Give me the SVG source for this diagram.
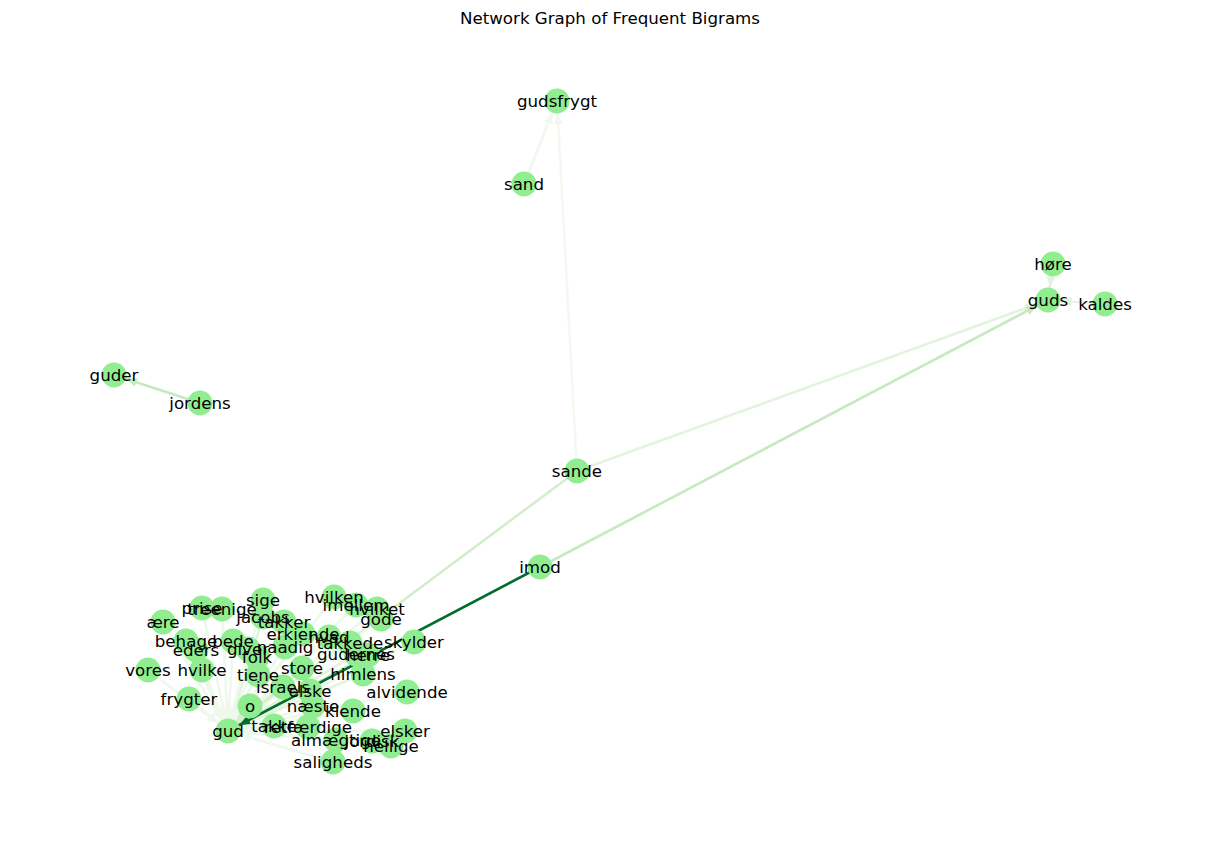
<svg xmlns="http://www.w3.org/2000/svg" width="1220" height="842" viewBox="0 0 1220 842">
<style>
.n circle{fill:#90ee90}
.n text{font-family:"DejaVu Sans",sans-serif;font-size:16.67px;fill:#000;text-anchor:middle;dominant-baseline:central}
.e line{stroke-width:2.6;fill:none}
.t{font-family:"DejaVu Sans",sans-serif;font-size:16.67px;text-anchor:middle}
</style>
<defs>
<marker id="a1" markerUnits="userSpaceOnUse" viewBox="0 0 11 9" markerWidth="11" markerHeight="9" refX="23.5" refY="4.5" orient="auto"><path d="M0,0L11,4.5L0,9z" fill="#eff8ec"/></marker>
<marker id="a2" markerUnits="userSpaceOnUse" viewBox="0 0 11 9" markerWidth="11" markerHeight="9" refX="23.5" refY="4.5" orient="auto"><path d="M0,0L11,4.5L0,9z" fill="#e3f4de"/></marker>
<marker id="a3" markerUnits="userSpaceOnUse" viewBox="0 0 11 9" markerWidth="11" markerHeight="9" refX="23.5" refY="4.5" orient="auto"><path d="M0,0L11,4.5L0,9z" fill="#c7e9c0"/></marker>
<marker id="a4" markerUnits="userSpaceOnUse" viewBox="0 0 11 9" markerWidth="11" markerHeight="9" refX="23.5" refY="4.5" orient="auto"><path d="M0,0L11,4.5L0,9z" fill="#006d2c"/></marker>
<marker id="a5" markerUnits="userSpaceOnUse" viewBox="0 0 11 9" markerWidth="11" markerHeight="9" refX="23.5" refY="4.5" orient="auto"><path d="M0,0L11,4.5L0,9z" fill="#d3eecd"/></marker>
</defs>
<rect width="1220" height="842" fill="#fff"/>
<text class="t" x="610" y="24">Network Graph of Frequent Bigrams</text>
<g id="edges" class="e">
<line x1="524" y1="184" x2="557" y2="101" stroke="#eff8ec" marker-end="url(#a1)"/>
<line x1="577" y1="471" x2="557" y2="101" stroke="#f2faef" marker-end="url(#a1)"/>
<line x1="1053" y1="264" x2="1048" y2="300" stroke="#e3f4de" marker-end="url(#a2)"/>
<line x1="1105" y1="304" x2="1048" y2="300" stroke="#e8f6e4" marker-end="url(#a2)"/>
<line x1="200" y1="403" x2="114" y2="375" stroke="#c7e9c0" marker-end="url(#a3)"/>
<line x1="577" y1="471" x2="1048" y2="300" stroke="#e3f4de" marker-end="url(#a2)"/>
<line x1="540" y1="567" x2="1048" y2="300" stroke="#c7e9c0" marker-end="url(#a3)"/>
<line x1="577" y1="471" x2="228" y2="731" stroke="#d3eecd" marker-end="url(#a5)"/>
<line x1="202" y1="608" x2="228" y2="731" stroke="#eff8ec" marker-end="url(#a1)"/>
<line x1="222" y1="609" x2="228" y2="731" stroke="#eff8ec" marker-end="url(#a1)"/>
<line x1="263" y1="600" x2="228" y2="731" stroke="#eff8ec" marker-end="url(#a1)"/>
<line x1="263" y1="617" x2="228" y2="731" stroke="#e3f4de" marker-end="url(#a2)"/>
<line x1="284" y1="622" x2="228" y2="731" stroke="#eff8ec" marker-end="url(#a1)"/>
<line x1="163" y1="622" x2="228" y2="731" stroke="#eff8ec" marker-end="url(#a1)"/>
<line x1="186" y1="641" x2="228" y2="731" stroke="#eff8ec" marker-end="url(#a1)"/>
<line x1="233" y1="641" x2="228" y2="731" stroke="#eff8ec" marker-end="url(#a1)"/>
<line x1="196" y1="650" x2="228" y2="731" stroke="#eff8ec" marker-end="url(#a1)"/>
<line x1="248" y1="649" x2="228" y2="731" stroke="#eff8ec" marker-end="url(#a1)"/>
<line x1="257" y1="657" x2="228" y2="731" stroke="#eff8ec" marker-end="url(#a1)"/>
<line x1="285" y1="647" x2="228" y2="731" stroke="#eff8ec" marker-end="url(#a1)"/>
<line x1="303" y1="634" x2="228" y2="731" stroke="#eff8ec" marker-end="url(#a1)"/>
<line x1="334" y1="597" x2="228" y2="731" stroke="#eff8ec" marker-end="url(#a1)"/>
<line x1="356" y1="605" x2="228" y2="731" stroke="#eff8ec" marker-end="url(#a1)"/>
<line x1="377" y1="609" x2="228" y2="731" stroke="#eff8ec" marker-end="url(#a1)"/>
<line x1="381" y1="619" x2="228" y2="731" stroke="#eff8ec" marker-end="url(#a1)"/>
<line x1="329" y1="637" x2="228" y2="731" stroke="#eff8ec" marker-end="url(#a1)"/>
<line x1="350" y1="643" x2="228" y2="731" stroke="#eff8ec" marker-end="url(#a1)"/>
<line x1="414" y1="642" x2="228" y2="731" stroke="#eff8ec" marker-end="url(#a1)"/>
<line x1="356" y1="654" x2="228" y2="731" stroke="#e3f4de" marker-end="url(#a2)"/>
<line x1="368" y1="655" x2="228" y2="731" stroke="#d3eecd" marker-end="url(#a5)"/>
<line x1="363" y1="674" x2="228" y2="731" stroke="#e3f4de" marker-end="url(#a2)"/>
<line x1="302" y1="668" x2="228" y2="731" stroke="#e3f4de" marker-end="url(#a2)"/>
<line x1="258" y1="675" x2="228" y2="731" stroke="#eff8ec" marker-end="url(#a1)"/>
<line x1="283" y1="687" x2="228" y2="731" stroke="#d3eecd" marker-end="url(#a5)"/>
<line x1="310" y1="691" x2="228" y2="731" stroke="#e3f4de" marker-end="url(#a2)"/>
<line x1="407" y1="692" x2="228" y2="731" stroke="#eff8ec" marker-end="url(#a1)"/>
<line x1="148" y1="670" x2="228" y2="731" stroke="#eff8ec" marker-end="url(#a1)"/>
<line x1="202" y1="670" x2="228" y2="731" stroke="#eff8ec" marker-end="url(#a1)"/>
<line x1="189" y1="699" x2="228" y2="731" stroke="#eff8ec" marker-end="url(#a1)"/>
<line x1="250" y1="706" x2="228" y2="731" stroke="#d3eecd" marker-end="url(#a5)"/>
<line x1="313" y1="706" x2="228" y2="731" stroke="#eff8ec" marker-end="url(#a1)"/>
<line x1="353" y1="711" x2="228" y2="731" stroke="#eff8ec" marker-end="url(#a1)"/>
<line x1="274" y1="726" x2="228" y2="731" stroke="#eff8ec" marker-end="url(#a1)"/>
<line x1="308" y1="727" x2="228" y2="731" stroke="#e3f4de" marker-end="url(#a2)"/>
<line x1="336" y1="740" x2="228" y2="731" stroke="#e3f4de" marker-end="url(#a2)"/>
<line x1="372" y1="741" x2="228" y2="731" stroke="#eff8ec" marker-end="url(#a1)"/>
<line x1="405" y1="731" x2="228" y2="731" stroke="#eff8ec" marker-end="url(#a1)"/>
<line x1="391" y1="746" x2="228" y2="731" stroke="#eff8ec" marker-end="url(#a1)"/>
<line x1="333" y1="762" x2="228" y2="731" stroke="#eff8ec" marker-end="url(#a1)"/>
<line x1="540" y1="567" x2="228" y2="731" stroke="#006d2c" marker-end="url(#a4)"/>
</g>
<g id="n-gudsfrygt" class="n"><circle cx="557" cy="101" r="12.5"/></g>
<g id="n-sand" class="n"><circle cx="524" cy="184" r="12.5"/></g>
<g id="n-hore" class="n"><circle cx="1053" cy="264" r="12.5"/></g>
<g id="n-guds" class="n"><circle cx="1048" cy="300" r="12.5"/></g>
<g id="n-kaldes" class="n"><circle cx="1105" cy="304" r="12.5"/></g>
<g id="n-guder" class="n"><circle cx="114" cy="375" r="12.5"/></g>
<g id="n-jordens" class="n"><circle cx="200" cy="403" r="12.5"/></g>
<g id="n-sande" class="n"><circle cx="577" cy="471" r="12.5"/></g>
<g id="n-imod" class="n"><circle cx="540" cy="567" r="12.5"/></g>
<g id="n-prise" class="n"><circle cx="202" cy="608" r="12.5"/></g>
<g id="n-treenige" class="n"><circle cx="222" cy="609" r="12.5"/></g>
<g id="n-sige" class="n"><circle cx="263" cy="600" r="12.5"/></g>
<g id="n-jacobs" class="n"><circle cx="263" cy="617" r="12.5"/></g>
<g id="n-takker" class="n"><circle cx="284" cy="622" r="12.5"/></g>
<g id="n-aere" class="n"><circle cx="163" cy="622" r="12.5"/></g>
<g id="n-behage" class="n"><circle cx="186" cy="641" r="12.5"/></g>
<g id="n-bede" class="n"><circle cx="233" cy="641" r="12.5"/></g>
<g id="n-eders" class="n"><circle cx="196" cy="650" r="12.5"/></g>
<g id="n-giver" class="n"><circle cx="248" cy="649" r="12.5"/></g>
<g id="n-folk" class="n"><circle cx="257" cy="657" r="12.5"/></g>
<g id="n-naadig" class="n"><circle cx="285" cy="647" r="12.5"/></g>
<g id="n-erkiende" class="n"><circle cx="303" cy="634" r="12.5"/></g>
<g id="n-hvilken" class="n"><circle cx="334" cy="597" r="12.5"/></g>
<g id="n-imellem" class="n"><circle cx="356" cy="605" r="12.5"/></g>
<g id="n-hvilket" class="n"><circle cx="377" cy="609" r="12.5"/></g>
<g id="n-gode" class="n"><circle cx="381" cy="619" r="12.5"/></g>
<g id="n-hvad" class="n"><circle cx="329" cy="637" r="12.5"/></g>
<g id="n-takkede" class="n"><circle cx="350" cy="643" r="12.5"/></g>
<g id="n-skylder" class="n"><circle cx="414" cy="642" r="12.5"/></g>
<g id="n-gudernes" class="n"><circle cx="356" cy="654" r="12.5"/></g>
<g id="n-herre" class="n"><circle cx="368" cy="655" r="12.5"/></g>
<g id="n-himlens" class="n"><circle cx="363" cy="674" r="12.5"/></g>
<g id="n-store" class="n"><circle cx="302" cy="668" r="12.5"/></g>
<g id="n-tiene" class="n"><circle cx="258" cy="675" r="12.5"/></g>
<g id="n-israels" class="n"><circle cx="283" cy="687" r="12.5"/></g>
<g id="n-elske" class="n"><circle cx="310" cy="691" r="12.5"/></g>
<g id="n-alvidende" class="n"><circle cx="407" cy="692" r="12.5"/></g>
<g id="n-vores" class="n"><circle cx="148" cy="670" r="12.5"/></g>
<g id="n-hvilke" class="n"><circle cx="202" cy="670" r="12.5"/></g>
<g id="n-frygter" class="n"><circle cx="189" cy="699" r="12.5"/></g>
<g id="n-o" class="n"><circle cx="250" cy="706" r="12.5"/></g>
<g id="n-gud" class="n"><circle cx="228" cy="731" r="12.5"/></g>
<g id="n-naeste" class="n"><circle cx="313" cy="706" r="12.5"/></g>
<g id="n-kiende" class="n"><circle cx="353" cy="711" r="12.5"/></g>
<g id="n-takke" class="n"><circle cx="274" cy="726" r="12.5"/></g>
<g id="n-retfaerdige" class="n"><circle cx="308" cy="727" r="12.5"/></g>
<g id="n-almaegtige" class="n"><circle cx="336" cy="740" r="12.5"/></g>
<g id="n-jordisk" class="n"><circle cx="372" cy="741" r="12.5"/></g>
<g id="n-elsker" class="n"><circle cx="405" cy="731" r="12.5"/></g>
<g id="n-hellige" class="n"><circle cx="391" cy="746" r="12.5"/></g>
<g id="n-saligheds" class="n"><circle cx="333" cy="762" r="12.5"/></g>
<g id="labels" class="n">
<text x="557" y="101">gudsfrygt</text>
<text x="524" y="184">sand</text>
<text x="1053" y="264">høre</text>
<text x="1048" y="300">guds</text>
<text x="1105" y="304">kaldes</text>
<text x="114" y="375">guder</text>
<text x="200" y="403">jordens</text>
<text x="577" y="471">sande</text>
<text x="540" y="567">imod</text>
<text x="202" y="608">prise</text>
<text x="222" y="609">treenige</text>
<text x="263" y="600">sige</text>
<text x="263" y="617">jacobs</text>
<text x="284" y="622">takker</text>
<text x="163" y="622">ære</text>
<text x="186" y="641">behage</text>
<text x="233" y="641">bede</text>
<text x="196" y="650">eders</text>
<text x="248" y="649">giver</text>
<text x="257" y="657">folk</text>
<text x="285" y="647">naadig</text>
<text x="303" y="634">erkiende</text>
<text x="334" y="597">hvilken</text>
<text x="356" y="605">imellem</text>
<text x="377" y="609">hvilket</text>
<text x="381" y="619">gode</text>
<text x="329" y="637">hvad</text>
<text x="350" y="643">takkede</text>
<text x="414" y="642">skylder</text>
<text x="356" y="654">gudernes</text>
<text x="368" y="655">herre</text>
<text x="363" y="674">himlens</text>
<text x="302" y="668">store</text>
<text x="258" y="675">tiene</text>
<text x="283" y="687">israels</text>
<text x="310" y="691">elske</text>
<text x="407" y="692">alvidende</text>
<text x="148" y="670">vores</text>
<text x="202" y="670">hvilke</text>
<text x="189" y="699">frygter</text>
<text x="250" y="706">o</text>
<text x="228" y="731">gud</text>
<text x="313" y="706">næste</text>
<text x="353" y="711">kiende</text>
<text x="274" y="726">takke</text>
<text x="308" y="727">retfærdige</text>
<text x="336" y="740">almægtige</text>
<text x="372" y="741">jordisk</text>
<text x="405" y="731">elsker</text>
<text x="391" y="746">hellige</text>
<text x="333" y="762">saligheds</text>
</g>
</svg>
